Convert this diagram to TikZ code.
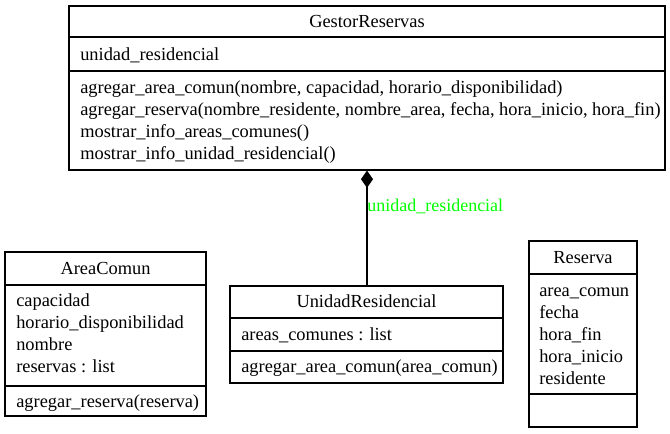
\documentclass[tikz,border=0pt]{standalone}
\usepackage{fontspec}
\setmainfont{Liberation Serif}
\usetikzlibrary{arrows.meta,fit}
\definecolor{labelgreen}{RGB}{0,255,0}
\begin{document}
\begin{tikzpicture}[x=0.75pt,y=-0.75pt,
  every node/.style={font=\fontsize{13.8}{16}\selectfont, inner sep=0pt},
  classbox/.style={draw, line width=0.8pt, inner sep=0pt},
  sep/.style={line width=0.8pt},
  txt/.style={anchor=base west, yshift=-3.75pt},
  ttl/.style={anchor=base, yshift=-3.75pt},
  conn/.style={line width=0.8pt}]
\useasboundingbox (0,0) rectangle (670,433);
% GestorReservas
\node[classbox, fit={(69,6)(665,170)}] (g) {};
\draw[sep] (69,37) -- (665,37);
\draw[sep] (69,71) -- (665,71);
\node[ttl] (gt) at (367,22) {GestorReservas};
\node[txt] (ga1) at (80,55) {unidad\_residencial};
\node[txt] (gm1) at (80,88) {agregar\_area\_comun(nombre, capacidad, horario\_disponibilidad)};
\node[txt] (gm2) at (80,110) {agregar\_reserva(nombre\_residente, nombre\_area, fecha, hora\_inicio, hora\_fin)};
\node[txt] (gm3) at (80,132) {mostrar\_info\_areas\_comunes()};
\node[txt] (gm4) at (80,154) {mostrar\_info\_unidad\_residencial()};
% AreaComun
\node[classbox, fit={(5,252)(206,416)}] (a) {};
\draw[sep] (5,285) -- (206,285);
\draw[sep] (5,386) -- (206,386);
\node[ttl] (at) at (105.5,269) {AreaComun};
\node[txt] (aa1) at (16,301) {capacidad};
\node[txt] (aa2) at (16,323) {horario\_disponibilidad};
\node[txt] (aa3) at (16,345) {nombre};
\node[txt] (aa4) at (16,367) {reservas : list};
\node[txt] (am1) at (16,402) {agregar\_reserva(reserva)};
% UnidadResidencial
\node[classbox, fit={(230,286)(503,383)}] (u) {};
\draw[sep] (230,318) -- (503,318);
\draw[sep] (230,351) -- (503,351);
\node[ttl] (ut) at (366.5,302) {UnidadResidencial};
\node[txt] (ua1) at (241,335) {areas\_comunes : list};
\node[txt] (um1) at (241,367) {agregar\_area\_comun(area\_comun)};
% Reserva
\node[classbox, fit={(529,241)(637,427)}] (r) {};
\draw[sep] (529,274) -- (637,274);
\draw[sep] (529,394) -- (637,394);
\node[ttl] (rt) at (583,258) {Reserva};
\node[txt] (ra1) at (539,291) {area\_comun};
\node[txt] (ra2) at (539,313) {fecha};
\node[txt] (ra3) at (539,335) {hora\_fin};
\node[txt] (ra4) at (539,357) {hora\_inicio};
\node[txt] (ra5) at (539,379) {residente};
% composition
\draw[conn, -{Diamond[length=13pt, width=9pt]}] (u.north -| 367,0) -- (g.south -| 367,0);
\node[txt, text=labelgreen, font=\fontsize{13.5}{16}\selectfont] (lbl) at (367,206) {unidad\_residencial};
\end{tikzpicture}
\end{document}
